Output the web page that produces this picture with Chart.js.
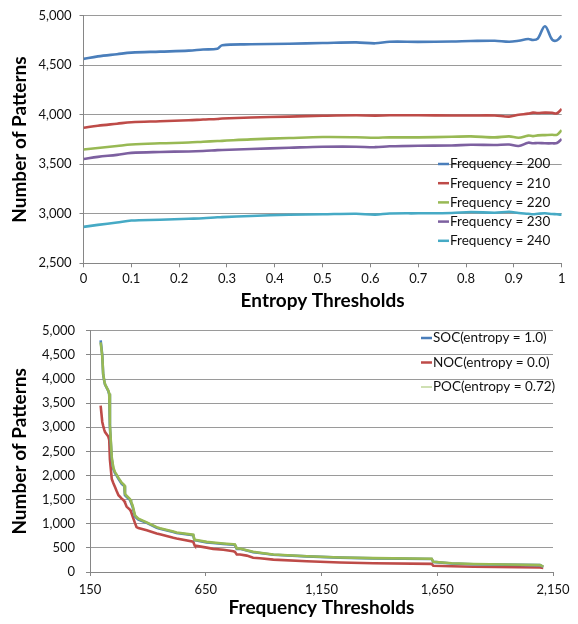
<!DOCTYPE html>
<html><head><meta charset="utf-8">
<script src="https://cdn.jsdelivr.net/npm/chart.js@4"></script>
<style>
html,body{margin:0;padding:0;background:#fff;}
#wrap{position:relative;width:578px;height:624px;}
canvas{position:absolute;left:0;}
#c1{top:0}
#c2{top:312px}
</style></head><body>
<div id="wrap"><canvas id="c1" width="578" height="312"></canvas><canvas id="c2" width="578" height="312"></canvas></div>
<script>
// ---------- Top chart data ----------
const entropy = [0, 0.03, 0.07, 0.1, 0.16, 0.22, 0.25, 0.28, 0.29, 0.35, 0.43, 0.5, 0.57, 0.61, 0.64, 0.7, 0.77, 0.81, 0.86, 0.89, 0.91, 0.93, 0.94, 0.95, 0.965, 0.98, 0.99, 1.0];
const freq200 = [4565, 4590, 4612, 4628, 4638, 4648, 4660, 4668, 4703, 4712, 4718, 4725, 4732, 4722, 4738, 4737, 4740, 4745, 4748, 4738, 4748, 4765, 4755, 4770, 4895, 4760, 4752, 4800];
const freq210 = [3870, 3890, 3910, 3925, 3935, 3945, 3952, 3958, 3962, 3972, 3982, 3990, 3995, 3992, 3995, 3995, 3993, 3993, 3993, 3982, 4000, 4012, 4022, 4018, 4022, 4020, 4015, 4060];
const freq220 = [3650, 3665, 3685, 3700, 3712, 3720, 3728, 3735, 3737, 3752, 3765, 3775, 3773, 3768, 3772, 3772, 3778, 3782, 3772, 3782, 3768, 3790, 3785, 3792, 3795, 3798, 3798, 3845];
const freq230 = [3553, 3575, 3595, 3615, 3625, 3630, 3635, 3643, 3645, 3655, 3667, 3677, 3678, 3673, 3682, 3688, 3690, 3698, 3695, 3700, 3685, 3718, 3712, 3715, 3712, 3712, 3715, 3755];
const freq240 = [2868, 2888, 2912, 2932, 2940, 2950, 2955, 2965, 2966, 2978, 2990, 2995, 3000, 2992, 3003, 3005, 3008, 3018, 3010, 3020, 3008, 3000, 2995, 3000, 3005, 2998, 2995, 2990];
const topLabels = ['Frequency = 200', 'Frequency = 210', 'Frequency = 220', 'Frequency = 230', 'Frequency = 240'];

// ---------- Bottom chart data ----------
const freqThresholds = [196, 203, 207, 212, 215, 229, 233, 236, 244, 251, 258, 265, 273, 287, 294, 298, 301, 308, 323, 327, 334, 344, 351, 359, 395, 438, 452, 510, 524, 596, 601, 603, 654, 682, 726, 769, 776, 784, 798, 827, 855, 884, 942, 1086, 1230, 1374, 1626, 1633, 1712, 1806, 2094, 2108];
const soc = [4800, 4494, 4089, 3950, 3887, 3752, 3684, 3010, 2334, 2132, 2050, 1997, 1930, 1828, 1800, 1780, 1593, 1560, 1492, 1440, 1356, 1154, 1120, 1087, 1018, 917, 895, 830, 810, 763, 662, 660, 614, 600, 580, 565, 560, 480, 480, 445, 411, 395, 358, 324, 297, 283, 270, 209, 176, 162, 142, 108];
const noc = [3448, 3111, 3030, 2942, 2900, 2807, 2740, 2334, 1929, 1840, 1761, 1680, 1593, 1520, 1492, 1470, 1440, 1356, 1290, 1255, 1154, 1018, 931, 910, 864, 800, 783, 710, 695, 628, 560, 547, 505, 480, 460, 432, 420, 364, 364, 340, 297, 285, 256, 223, 196, 182, 169, 128, 118, 108, 92, 85];
const poc = [4760, 4470, 4100, 3960, 3890, 3760, 3700, 3050, 2380, 2160, 2070, 2020, 1950, 1850, 1820, 1800, 1620, 1580, 1510, 1460, 1380, 1180, 1140, 1105, 1030, 930, 905, 840, 820, 775, 672, 668, 625, 610, 590, 575, 570, 490, 488, 452, 418, 400, 362, 328, 302, 288, 275, 212, 180, 166, 146, 112];
const bottomLabels = ['SOC(entropy = 1.0)', 'NOC(entropy = 0.0)', 'POC(entropy = 0.72)'];

const FONT = 'Lato, "Noto Sans", sans-serif';
const colors = ['#4A7EBB', '#BE4B48', '#98B954', '#7D60A0', '#46AAC5'];

const insideLegend = {
  id: 'insideLegend',
  afterDatasetsDraw(chart, args, o) {
    const ctx = chart.ctx;
    ctx.save();
    ctx.font = o.font;
    ctx.textBaseline = 'middle';
    ctx.textAlign = 'left';
    chart.data.datasets.forEach((ds, i) => {
      const y = o.y0 + i * o.dy;
      ctx.strokeStyle = ds.legendColor || ds.borderColor;
      ctx.lineWidth = ds.legendWidth || 2.5;
      ctx.beginPath(); ctx.moveTo(o.x1, y); ctx.lineTo(o.x2, y); ctx.stroke();
      ctx.fillStyle = '#111';
      ctx.fillText(ds.label, o.textX, y);
    });
    ctx.restore();
  }
};

function pts(xs, ys) { return xs.map((x, i) => ({x: x, y: ys[i]})); }

function gridY() {
  return { color: '#9a9a9a', lineWidth: 1, borderDash: [2, 2], tickBorderDash: [], tickColor: '#868686', tickLength: 4, drawTicks: true };
}
const titleFont = { family: FONT, size: 19, weight: 'bold' };

// ---------- Top chart ----------
new Chart(document.getElementById('c1'), {
  type: 'line',
  data: {
    datasets: [freq200, freq210, freq220, freq230, freq240].map((arr, i) => ({
      label: topLabels[i], data: pts(entropy, arr), borderColor: colors[i], borderWidth: 2.6,
      pointRadius: 0, tension: 0.35, fill: false
    }))
  },
  options: {
    responsive: false, animation: false, devicePixelRatio: 1,
    layout: { padding: { left: 0, right: 16.3, top: 14, bottom: 0 } },
    plugins: {
      legend: { display: false }, tooltip: { enabled: false },
      insideLegend: { font: '13.5px ' + FONT, x1: 438, x2: 449, textX: 450, y0: 164, dy: 19.2 }
    },
    scales: {
      x: {
        type: 'linear', min: 0, max: 1,
        ticks: { stepSize: 0.1, color: '#111', font: { family: FONT, size: 13 }, padding: 4, maxRotation: 0,
                 callback: v => String(Number(v.toFixed(1))) },
        grid: { drawOnChartArea: false, tickLength: 4, tickColor: '#868686' },
        border: { color: '#868686', width: 1 },
        title: { display: true, text: 'Entropy Thresholds', color: '#000', font: titleFont, padding: { top: 0, bottom: 0 } },
        afterFit(s) { s.height = 48.7; }
      },
      y: {
        min: 2500, max: 5000,
        ticks: { stepSize: 500, color: '#111', font: { family: FONT, size: 13 }, padding: 8 },
        grid: gridY(),
        border: { color: '#868686', width: 1 },
        title: { display: true, text: 'Number of Patterns', color: '#000', font: titleFont, padding: { top: 8.5, bottom: 0 } },
        afterFit(s) { s.width = 83.5; }
      }
    }
  },
  plugins: [insideLegend]
});

// ---------- Bottom chart ----------
const bColors = ['#4A7EBB', '#BE4B48', '#98B954'];
new Chart(document.getElementById('c2'), {
  type: 'line',
  data: {
    datasets: [soc, noc, poc].map((arr, i) => ({
      label: bottomLabels[i], data: pts(freqThresholds, arr), borderColor: bColors[i], borderWidth: 2.6,
      pointRadius: 0, tension: 0, fill: false, order: i === 2 ? 0 : 1,
      legendWidth: i === 2 ? 1.3 : 2.5, legendColor: i === 2 ? '#b5cf8a' : bColors[i]
    }))
  },
  options: {
    responsive: false, animation: false, devicePixelRatio: 1,
    layout: { padding: { left: 0, right: 25, top: 13, bottom: 0 } },
    plugins: {
      legend: { display: false }, tooltip: { enabled: false },
      insideLegend: { font: '13.5px ' + FONT, x1: 421, x2: 432, textX: 433, y0: 338 - 312, dy: 24.5 }
    },
    scales: {
      x: {
        type: 'linear', min: 150, max: 2150,
        ticks: { stepSize: 500, color: '#111', font: { family: FONT, size: 13 }, padding: 6, maxRotation: 0 },
        grid: { drawOnChartArea: false, tickLength: 4, tickColor: '#868686' },
        border: { color: '#868686', width: 1 },
        title: { display: true, text: 'Frequency Thresholds', color: '#000', font: titleFont, padding: { top: 0, bottom: 4.5 } },
        afterFit(s) { s.height = 52; }
      },
      y: {
        min: 0, max: 5000,
        ticks: { stepSize: 500, color: '#111', font: { family: FONT, size: 13 }, padding: 11 },
        grid: gridY(),
        border: { color: '#868686', width: 1 },
        title: { display: true, text: 'Number of Patterns', color: '#000', font: titleFont, padding: { top: 8.5, bottom: 0 } },
        afterFit(s) { s.width = 90; }
      }
    }
  },
  plugins: [insideLegend]
});
</script>
</body></html>
